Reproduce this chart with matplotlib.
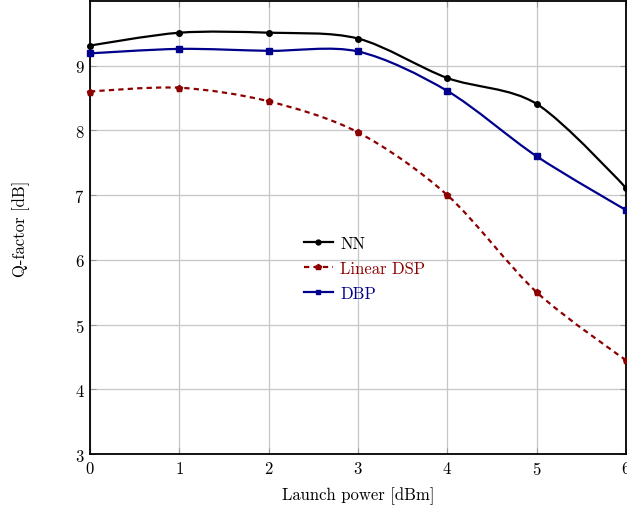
import matplotlib
matplotlib.use("Agg")
import matplotlib.pyplot as plt
from matplotlib.path import Path
from matplotlib.patches import PathPatch
from matplotlib.lines import Line2D
import numpy as np

plt.rcParams['font.family'] = ['cmr10', 'DejaVu Serif']
plt.rcParams['axes.formatter.use_mathtext'] = True
plt.rcParams['lines.scale_dashes'] = False

# Launch power [dBm]
launch_power = [0, 1, 2, 3, 4, 5, 6]
# Q-factor [dB]
q_nn = [9.31, 9.51, 9.51, 9.42, 8.81, 8.41, 7.11]
q_linear = [8.60, 8.66, 8.45, 7.97, 7.00, 5.50, 4.45]
q_dbp = [9.19, 9.26, 9.23, 9.22, 8.61, 7.60, 6.77]

series_labels = ["NN", "Linear DSP", "DBP"]
series_colors = ["black", (0.55, 0.0, 0.0), (0.0, 0.0, 0.55)]


def smooth_path(x, y, tension=0.55):
    """Bezier path through the points, pgf 'smooth' style."""
    p = np.column_stack([x, y]).astype(float)
    n = len(p)
    f = 0.2775 * tension
    verts = [p[0]]
    codes = [Path.MOVETO]
    for i in range(n - 1):
        c1 = p[i] if i == 0 else p[i] + f * (p[i + 1] - p[i - 1])
        c2 = p[i + 1] if i == n - 2 else p[i + 1] - f * (p[i + 2] - p[i])
        verts += [c1, c2, p[i + 1]]
        codes += [Path.CURVE4] * 3
    return Path(verts, codes)


fig = plt.figure(figsize=(6.27, 5.10), dpi=100)
ax = fig.add_axes([90 / 627, 1 - 455 / 510, 536 / 627, 453 / 510])

ax.set_xlim(0, 6)
ax.set_ylim(3, 10)
ax.set_xticks(range(0, 7))
ax.set_yticks(range(3, 10))
ax.grid(True, color=(0.78, 0.78, 0.78), linewidth=0.9)
ax.set_axisbelow(True)
ax.tick_params(direction='in', length=4, width=0.8, color=(0.6, 0.6, 0.6),
               top=True, right=True, labelsize=12, pad=4)
for s in ax.spines.values():
    s.set_linewidth(1.3)

styles = [
    dict(marker='o', ms=4, ls='-'),
    dict(marker='p', ms=4.5, ls=(0, (3.8, 3))),
    dict(marker='s', ms=4, ls='-'),
]
handles = []
for yv, lab, col, st in zip([q_nn, q_linear, q_dbp], series_labels,
                            series_colors, styles):
    patch = PathPatch(smooth_path(launch_power, yv), facecolor='none',
                      edgecolor=col, linewidth=1.6, linestyle=st['ls'],
                      clip_on=False, zorder=3)
    ax.add_patch(patch)
    ax.plot(launch_power, yv, ls='none', marker=st['marker'], ms=st['ms'],
            color=col, clip_on=False, zorder=4)
    handles.append(Line2D([], [], color=col, lw=1.6, ls=st['ls'],
                          marker=st['marker'], ms=st['ms'] - 0.5, label=lab))

leg = ax.legend(handles=handles, loc='center left',
                bbox_to_anchor=(0.378, 0.41), frameon=False, fontsize=12,
                handlelength=1.7, handletextpad=0.45, labelspacing=0.6,
                borderpad=0.2)
for txt, col in zip(leg.get_texts(), series_colors):
    txt.set_color(col)

ax.set_xlabel("Launch power [dBm]", fontsize=12, labelpad=7)
ax.set_ylabel("Q-factor [dB]", fontsize=12, labelpad=32)

fig.savefig("out.png", dpi=100)
